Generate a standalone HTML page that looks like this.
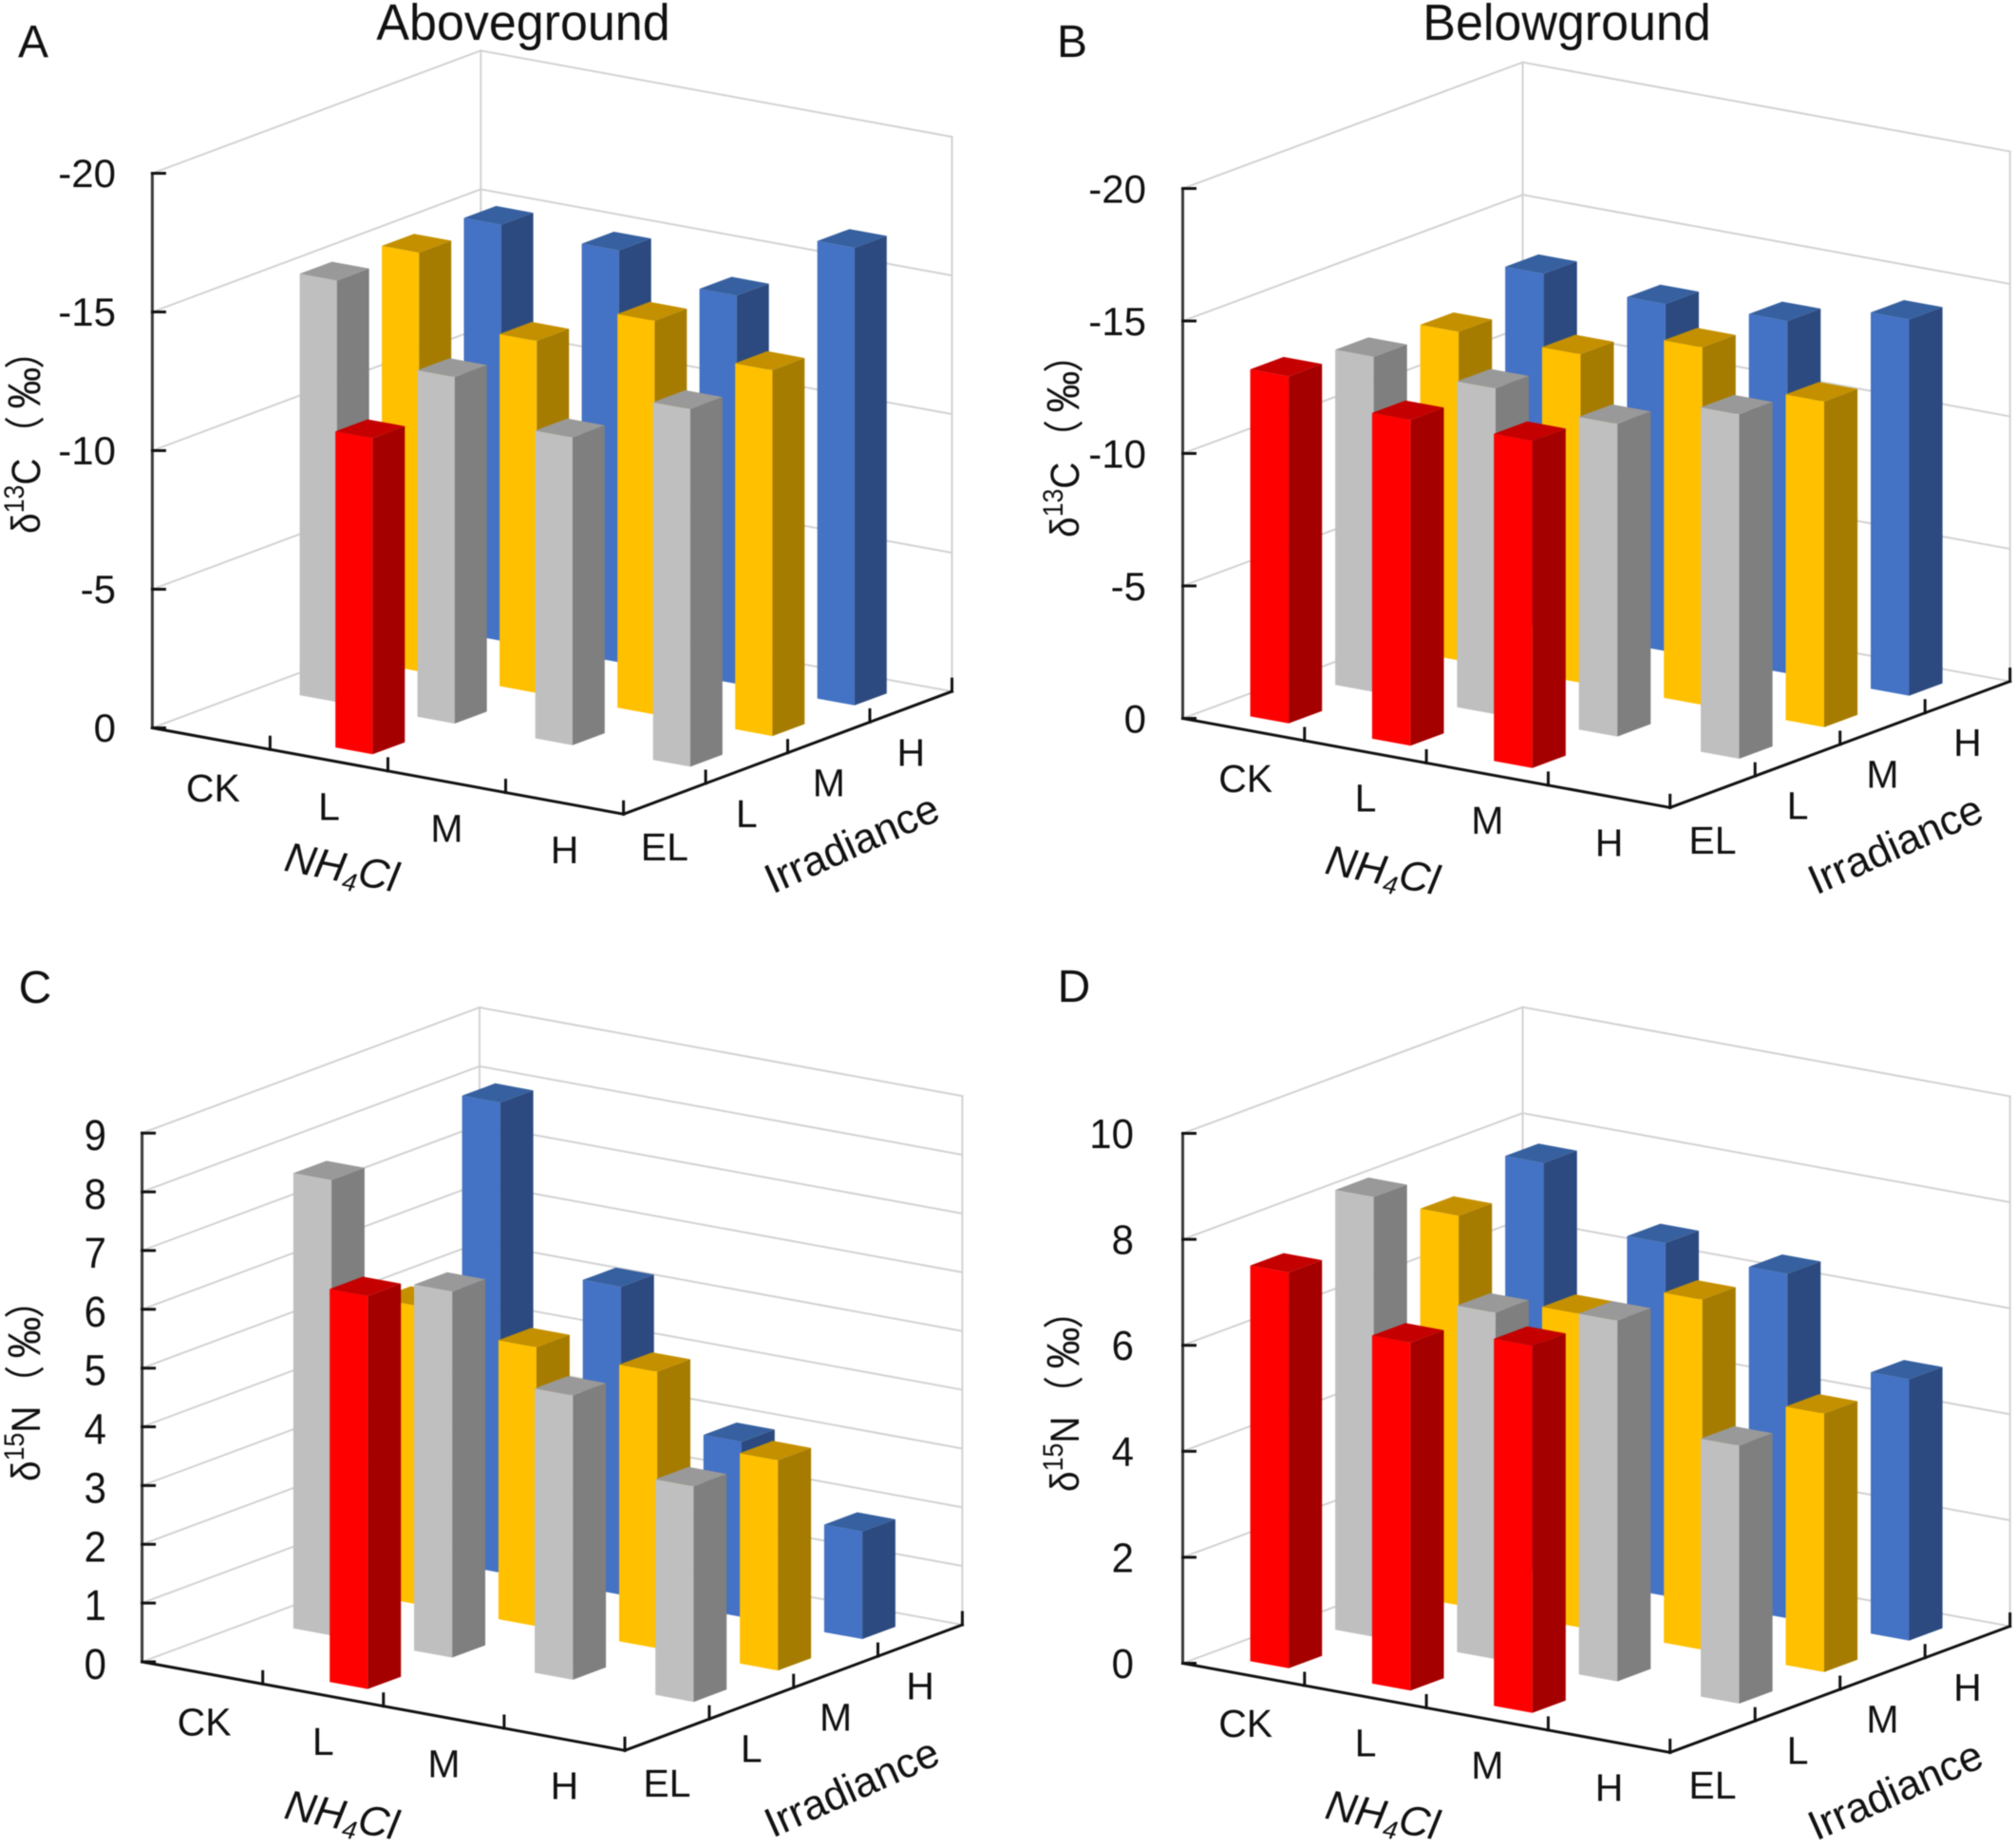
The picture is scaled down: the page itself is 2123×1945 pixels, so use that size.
<!DOCTYPE html>
<html lang="en">
<head>
<meta charset="utf-8">
<title>Aboveground and belowground isotope 3D bar charts</title>
<style>
  html, body { margin: 0; padding: 0; background: #fff; }
  #figure { display: block; width: 2123px; height: 1945px; filter: blur(0.55px); }
  text { font-family: "Liberation Sans", "Noto Sans CJK SC", sans-serif; fill: #111; }
</style>
</head>
<body>
<svg id="figure" xmlns="http://www.w3.org/2000/svg" width="2123" height="1945" viewBox="0 0 2123 1945">
  <rect x="0" y="0" width="2123" height="1945" fill="#ffffff"/>
  <g id="panels"></g>

  <text transform="translate(551,42) scale(1,1.03)" text-anchor="middle" font-size="52">Aboveground</text>
  <text transform="translate(1650,42) scale(1,1.03)" text-anchor="middle" font-size="52">Belowground</text>

  <text transform="translate(35,60)" text-anchor="middle" font-size="48">A</text>
  <text transform="translate(1129,60)" text-anchor="middle" font-size="48">B</text>
  <text transform="translate(37,1056)" text-anchor="middle" font-size="48">C</text>
  <text transform="translate(1131,1055)" text-anchor="middle" font-size="48">D</text>

  <text transform="translate(42,562) rotate(-90) scale(.95,1.05)" font-size="41">δ<tspan font-size="28" dy="-16">13</tspan><tspan dy="16">C</tspan><tspan font-family="Noto Sans CJK SC" dx="6">（</tspan><tspan dx="8" font-size="46">‰</tspan><tspan font-family="Noto Sans CJK SC" dx="-2">）</tspan></text>
  <text transform="translate(1136,566) rotate(-90) scale(.95,1.05)" font-size="41">δ<tspan font-size="28" dy="-16">13</tspan><tspan dy="16">C</tspan><tspan font-family="Noto Sans CJK SC" dx="6">（</tspan><tspan dx="8" font-size="46">‰</tspan><tspan font-family="Noto Sans CJK SC" dx="-2">）</tspan></text>
  <text transform="translate(42,1560) rotate(-90) scale(.95,1.05)" font-size="41">δ<tspan font-size="28" dy="-16">15</tspan><tspan dy="16">N</tspan><tspan font-family="Noto Sans CJK SC" dx="4">（</tspan><tspan dx="8" font-size="46">‰</tspan><tspan font-family="Noto Sans CJK SC" dx="-2">）</tspan></text>
  <text transform="translate(1136,1571) rotate(-90) scale(.95,1.05)" font-size="41">δ<tspan font-size="28" dy="-16">15</tspan><tspan dy="16">N</tspan><tspan font-family="Noto Sans CJK SC" dx="4">（</tspan><tspan dx="8" font-size="46">‰</tspan><tspan font-family="Noto Sans CJK SC" dx="-2">）</tspan></text>

  <text transform="translate(357,928) rotate(11)" text-anchor="middle" font-size="44" font-style="italic">NH<tspan font-size="27" dy="8">4</tspan><tspan dy="-8">Cl</tspan></text>
  <text transform="translate(1453,931) rotate(11)" text-anchor="middle" font-size="44" font-style="italic">NH<tspan font-size="27" dy="8">4</tspan><tspan dy="-8">Cl</tspan></text>
  <text transform="translate(357,1926) rotate(11)" text-anchor="middle" font-size="44" font-style="italic">NH<tspan font-size="27" dy="8">4</tspan><tspan dy="-8">Cl</tspan></text>
  <text transform="translate(1453,1926) rotate(11)" text-anchor="middle" font-size="44" font-style="italic">NH<tspan font-size="27" dy="8">4</tspan><tspan dy="-8">Cl</tspan></text>

  <text transform="translate(903,902) rotate(-24)" text-anchor="middle" font-size="44">Irradiance</text>
  <text transform="translate(2002,903) rotate(-24)" text-anchor="middle" font-size="44">Irradiance</text>
  <text transform="translate(903,1896) rotate(-24)" text-anchor="middle" font-size="44">Irradiance</text>
  <text transform="translate(2002,1899) rotate(-24)" text-anchor="middle" font-size="44">Irradiance</text>
</svg>

<script>
// ---- Data ----
const nh4clCategories = ['CK', 'L', 'M', 'H'];
const irradianceCategories = ['EL', 'L', 'M', 'H'];

// Panel A: aboveground d13C, one array per irradiance level, ordered CK, L, M, H
const aboveC13EL = [null, -11.4, null, null];
const aboveC13L = [-15.2, -12.5, -11.1, -12.9];
const aboveC13M = [-15.1, -12.7, -14.2, -13.2];
const aboveC13H = [-15.0, -14.85, -14.0, -16.5];
const aboveC13Ticks = [0, -5, -10, -15, -20];

// Panel B: belowground d13C
const belowC13EL = [-13.1, -12.3, -12.35, null];
const belowC13L = [-12.65, -12.3, -11.8, -13.0];
const belowC13M = [-12.4, -12.4, -13.5, -12.3];
const belowC13H = [-13.4, -13.1, -13.3, -14.2];
const belowC13Ticks = [0, -5, -10, -15, -20];

// Panel C: aboveground d15N
const aboveN15EL = [null, 6.69, null, null];
const aboveN15L = [7.75, 6.23, 4.84, 3.67];
const aboveN15M = [5.08, 4.75, 4.71, 3.58];
const aboveN15H = [8.0, 5.24, 2.98, 1.83];
const aboveN15Ticks = [0, 1, 2, 3, 4, 5, 6, 7, 8, 9];

// Panel D: belowground d15N
const belowN15EL = [7.47, 6.57, 6.93, null];
const belowN15L = [8.3, 6.54, 6.81, 4.87];
const belowN15M = [7.35, 5.92, 6.61, 4.88];
const belowN15H = [7.75, 6.66, 6.5, 4.93];
const belowN15Ticks = [0, 2, 4, 6, 8, 10];

// ---- Drawing ----
const SVG_NS = 'http://www.w3.org/2000/svg';
const BAR_DU = 0.079;
const BAR_DW = 0.098;
const TICK_LEN = 13;

const colours = [
  { front: '#ff0000', side: '#a50000', top: '#c40000' },
  { front: '#bfbfbf', side: '#7f7f7f', top: '#999999' },
  { front: '#ffc000', side: '#a67c00', top: '#c49000' },
  { front: '#4472c4', side: '#2c4a7f', top: '#36609f' }
];

const panels = [
  { id: 'a', ox: 160.4, oy: 766.5, ux: 496.2, uy: 90.8, wx: 345.9, wy: -129.2, h: 584, max: -20, backDx: 0,
    labelEnd: 122, labelDy: 14.5, labelScale: 1, ticks: aboveC13Ticks, rows: [aboveC13EL, aboveC13L, aboveC13M, aboveC13H], uOff: 49, wOff: 48 },
  { id: 'b', ox: 1245.5, oy: 756.5, ux: 513.2, uy: 93.9, wx: 358, wy: -132.9, h: 558, max: -20, backDx: 0,
    labelEnd: 1207, labelDy: 15, labelScale: 1, ticks: belowC13Ticks, rows: [belowC13EL, belowC13L, belowC13M, belowC13H], uOff: 49, wOff: 48 },
  { id: 'c', ox: 149.6, oy: 1750, ux: 508.4, uy: 93.3, wx: 355.4, wy: -132.3, h: 556.8, max: 9, backDx: 0,
    labelEnd: 112, labelDy: 18, labelScale: 1.08, ticks: aboveN15Ticks, rows: [aboveN15EL, aboveN15L, aboveN15M, aboveN15H], uOff: 49, wOff: 48 },
  { id: 'd', ox: 1245.5, oy: 1751.5, ux: 513.2, uy: 93.9, wx: 358, wy: -132.9, h: 558, max: 10, backDx: 0,
    labelEnd: 1194, labelDy: 15.5, labelScale: 1.04, ticks: belowN15Ticks, rows: [belowN15EL, belowN15L, belowN15M, belowN15H], uOff: 49, wOff: 48 }
];

function create(tag, attrs) {
  const el = document.createElementNS(SVG_NS, tag);
  for (const k in attrs) el.setAttribute(k, attrs[k]);
  return el;
}

// Axis functions
function categoryPos(index) { return (index + 0.5) / 4; }
function project(p, u, w, value) {
  return {
    x: p.ox + u * p.ux + w * p.wx,
    y: p.oy + u * p.uy + w * p.wy - (value / p.max) * p.h
  };
}
function pointsAttr(list) {
  return list.map(function (q) { return q.x.toFixed(1) + ',' + q.y.toFixed(1); }).join(' ');
}

function segment(a, b, colour, width) {
  return create('line', {
    x1: a.x.toFixed(1), y1: a.y.toFixed(1), x2: b.x.toFixed(1), y2: b.y.toFixed(1),
    stroke: colour, 'stroke-width': width, 'stroke-linecap': 'square'
  });
}

// Back corner of the box, with the small offset seen in the source figure
function backCorner(p, value) {
  const q = project(p, 0, 1, value);
  return { x: q.x + p.backDx, y: q.y };
}

function drawWalls(group, p) {
  const GRID = '#d2d2d2';
  const floorRight = project(p, 1, 1, 0);
  const topRight = project(p, 1, 1, p.max);

  const backEdge = segment(backCorner(p, 0), backCorner(p, p.max), GRID, 2);
  
  
  group.appendChild(backEdge);

  const rightEdge = segment(floorRight, topRight, GRID, 2);
  
  
  group.appendChild(rightEdge);

  p.ticks.forEach(function (t) {
    const left = segment(project(p, 0, 0, t), backCorner(p, t), GRID, 2);
    
    
    group.appendChild(left);

    const back = segment(backCorner(p, t), project(p, 1, 1, t), GRID, 2);
    
    
    group.appendChild(back);
  });
}

function drawAxes(group, p) {
  const origin = project(p, 0, 0, 0);
  const front = project(p, 1, 0, 0);
  const right = project(p, 1, 1, 0);
  const topLeft = project(p, 0, 0, p.max);

  const yAxis = segment(origin, topLeft, '#3a3a3a', 3);
  
  
  group.appendChild(yAxis);

  const xAxis = segment(origin, front, '#111111', 3);
  
  
  group.appendChild(xAxis);

  const zAxis = segment(front, right, '#111111', 3);
  
  
  group.appendChild(zAxis);

  p.ticks.forEach(function (t) {
    const at = project(p, 0, 0, t);
    const tick = segment(at, { x: at.x + TICK_LEN, y: at.y }, '#111111', 3);
    
    
    group.appendChild(tick);

    const label = create('text', {
      transform: 'translate(' + p.labelEnd + ',' + (at.y + p.labelDy).toFixed(1) + ') scale(1,' + p.labelScale + ')',
      'text-anchor': 'end', 'font-size': 42
    });
    label.textContent = String(t);
    
    
    group.appendChild(label);
  });

  nh4clCategories.forEach(function (name, i) {
    const mid = project(p, categoryPos(i), 0, 0);
    const edge = project(p, (i + 1) / 4, 0, 0);
    const tick = segment(edge, { x: edge.x, y: edge.y - TICK_LEN }, '#111111', 3);
    
    
    group.appendChild(tick);

    const label = create('text', {
      x: (mid.x + (i === 0 ? 2 : 0)).toFixed(1), y: (mid.y + p.uOff + (i === 0 ? 3 : 0) + 14).toFixed(1),
      'text-anchor': 'middle', 'font-size': 41
    });
    label.textContent = name;
    
    
    group.appendChild(label);
  });

  irradianceCategories.forEach(function (name, j) {
    const mid = project(p, 1, categoryPos(j), 0);
    const edge = project(p, 1, (j + 1) / 4, 0);
    const tick = segment(edge, { x: edge.x, y: edge.y - TICK_LEN }, '#111111', 3);
    
    
    group.appendChild(tick);

    const label = create('text', {
      x: mid.x.toFixed(1), y: (mid.y + p.wOff + (j === 0 ? 3 : 0) + 14).toFixed(1),
      'text-anchor': 'middle', 'font-size': 41
    });
    label.textContent = name;
    
    
    group.appendChild(label);
  });
}

function drawBar(group, p, i, j, value) {
  const u = categoryPos(i);
  const w = categoryPos(j);
  const u0 = u - BAR_DU / 2, u1 = u + BAR_DU / 2;
  const w0 = w - BAR_DW / 2, w1 = w + BAR_DW / 2;
  const c = colours[j];

  const bar = create('g', {});
  
  

  const frontFace = create('polygon', {
    points: pointsAttr([project(p, u0, w0, 0), project(p, u1, w0, 0), project(p, u1, w0, value), project(p, u0, w0, value)]),
    fill: c.front
  });
  
  
  bar.appendChild(frontFace);

  const sideFace = create('polygon', {
    points: pointsAttr([project(p, u1, w0, 0), project(p, u1, w1, 0), project(p, u1, w1, value), project(p, u1, w0, value)]),
    fill: c.side
  });
  
  
  bar.appendChild(sideFace);

  const topFace = create('polygon', {
    points: pointsAttr([project(p, u0, w0, value), project(p, u1, w0, value), project(p, u1, w1, value), project(p, u0, w1, value)]),
    fill: c.top
  });
  
  
  bar.appendChild(topFace);

  group.appendChild(bar);
}

const host = document.getElementById('panels');
panels.forEach(function (p) {
  const group = create('g', {});
  
  
  host.appendChild(group);

  drawWalls(group, p);
  drawAxes(group, p);

  // Painter's order: farthest irradiance row first, left to right within a row
  for (let j = p.rows.length - 1; j >= 0; j--) {
    for (let i = 0; i < p.rows[j].length; i++) {
      if (p.rows[j][i] !== null) drawBar(group, p, i, j, p.rows[j][i]);
    }
  }
});
</script>
</body>
</html>
